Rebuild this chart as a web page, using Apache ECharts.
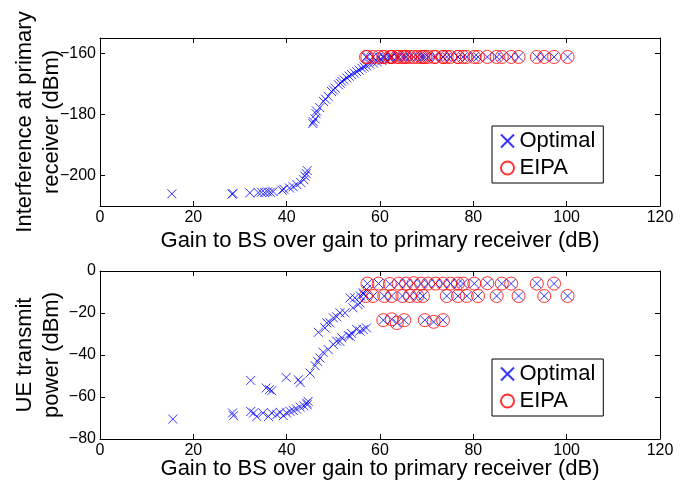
<!DOCTYPE html>
<html>
<head>
<meta charset="utf-8">
<script src="https://cdn.jsdelivr.net/npm/echarts@6/dist/echarts.min.js"></script>
<style>
  html, body { margin: 0; padding: 0; background: #fff; }
  #chart { width: 698px; height: 485px; }
</style>
</head>
<body>
<div id="chart"></div>
<script>
// 刻度
const X_TICKS = [0, 20, 40, 60, 80, 100, 120];
const TOP_Y_TICKS = [-200, -180, -160];
const BOTTOM_Y_TICKS = [-80, -60, -40, -20, 0];

// EIPA 用户的横坐标（两幅图共用）
const EIPA_X = [57.0, 57.3, 58.5, 59.7, 60.7, 60.9, 62.1, 62.5, 62.5, 63.6, 64.0, 64.8, 65.2, 65.6,
  66.4, 67.2, 68.0, 68.8, 69.2, 69.6, 70.3, 71.5, 71.9, 73.5, 73.5, 74.3, 75.1, 76.7, 76.7, 77.8,
  78.6, 80.2, 81.0, 83.0, 85.0, 86.1, 88.1, 89.7, 93.6, 95.2, 97.3, 100.2];

// 上图：干扰功率
const TOP_OPT_RISE = [
  [15.4, -206.0], [28.3, -206.1], [28.5, -205.9], [32.1, -205.7], [33.9, -205.6], [34.6, -205.5],
  [35.3, -205.6], [35.9, -205.4], [36.5, -205.5], [37.1, -205.3], [39.0, -204.8], [39.4, -204.5],
  [40.6, -204.1], [41.4, -203.7], [42.2, -203.0], [43.0, -202.3], [43.7, -201.4], [43.9, -200.2],
  [44.2, -199.4], [44.4, -198.4],
  [45.6, -183.0], [45.7, -182.4], [46.1, -181.5], [46.3, -179.8], [46.4, -178.9], [47.1, -177.8],
  [47.9, -175.8], [48.3, -175.0], [48.9, -174.1], [49.6, -172.5], [50.0, -172.0], [50.4, -171.4],
  [51.1, -170.3], [51.5, -169.8], [51.8, -169.2], [52.3, -168.7], [52.9, -168.1], [53.4, -167.5],
  [53.9, -167.0], [54.5, -166.5], [55.0, -166.0], [55.5, -165.5], [56.1, -164.9], [56.6, -164.5],
  [57.1, -164.1], [57.8, -163.6], [58.6, -163.2], [59.4, -162.8], [60.4, -162.4], [61.2, -162.0],
  [62.1, -161.6]
];
const TOP_PLATEAU_Y = -161.2;

// 下图：发射功率（EIPA 三行）
const BOTTOM_EIPA = [
  [57.3, -6.0], [59.7, -6.0], [62.1, -6.2], [64.0, -6.0], [65.6, -6.0], [67.2, -5.8], [68.8, -6.0],
  [70.3, -6.0], [71.9, -6.0], [73.5, -6.0], [75.1, -6.0], [76.7, -6.0], [77.8, -6.0], [80.2, -6.0],
  [83.0, -5.8], [86.1, -6.0], [88.1, -6.0], [93.6, -6.0], [97.3, -6.0],
  [57.0, -11.9], [58.5, -11.9], [60.9, -11.9], [62.5, -11.9], [64.8, -11.9], [66.4, -11.9],
  [68.0, -11.9], [69.2, -11.9], [74.3, -11.9], [76.7, -11.9], [78.6, -11.9], [81.0, -11.9],
  [85.0, -11.9], [89.7, -11.9], [95.2, -11.9], [100.2, -11.9],
  [60.7, -23.4], [62.5, -23.0], [63.6, -24.8], [65.2, -23.4], [69.6, -23.4], [71.5, -24.2], [73.5, -23.4]
];
const BOTTOM_OPT_RISE = [
  [15.6, -70.5], [28.4, -67.6], [28.6, -68.9], [32.3, -52.1], [32.3, -66.9], [32.9, -67.6],
  [33.6, -69.3], [34.9, -67.6], [35.6, -55.7], [36.1, -69.3], [36.3, -56.5], [36.8, -57.0],
  [36.8, -67.6], [37.9, -68.4], [38.6, -67.3], [39.3, -68.9], [39.9, -50.7], [40.0, -67.6],
  [40.7, -66.8], [41.4, -66.4], [42.1, -65.7], [42.5, -51.8], [42.9, -53.1], [42.9, -64.8],
  [43.7, -64.2], [44.3, -62.9], [44.4, -63.7], [44.6, -62.1],
  [45.0, -48.6], [46.1, -45.1], [46.6, -43.0], [47.1, -41.4], [47.8, -38.7], [48.9, -37.4],
  [50.0, -35.0], [50.7, -33.4], [51.4, -33.5], [51.8, -31.8], [53.2, -30.7], [53.6, -31.1],
  [53.9, -29.7], [55.0, -27.8], [55.7, -28.6], [56.4, -27.9], [57.1, -27.1],
  [46.8, -29.2], [48.2, -27.1], [48.6, -24.7], [49.3, -24.7], [50.0, -22.3], [50.7, -21.8],
  [51.4, -19.9], [52.5, -19.9], [53.6, -12.8], [54.2, -17.5], [54.6, -12.8], [55.3, -16.0],
  [55.7, -15.2], [56.4, -10.4], [57.1, -8.8], [55.8, -11.9], [56.5, -11.1]
];

const topEipa = EIPA_X.map(x => [x, TOP_PLATEAU_Y]);
const topOpt = TOP_OPT_RISE.concat(EIPA_X.map(x => [x, TOP_PLATEAU_Y]));
const bottomOpt = BOTTOM_OPT_RISE.concat(BOTTOM_EIPA);

const chart = echarts.init(document.getElementById('chart'));
const FONT = 'Liberation Sans';
const minus = v => String(v).replace('-', '\u2212');
const CROSS = 'path://M0,0L10,10M10,0L0,10';

function xAxisFor(grid, shown) {
  return {
    type: 'value', gridIndex: grid, min: 0, max: 120, position: shown ? 'bottom' : 'top',
    name: shown ? 'Gain to BS over gain to primary receiver (dB)' : '',
    nameLocation: 'middle', nameGap: grid === 0 ? 24 : 19, nameMoveOverlap: false,
    nameTextStyle: { fontFamily: FONT, fontSize: 22, color: '#000' },
    axisLine: { show: true, onZero: false, lineStyle: { color: '#000', width: 1 } },
    axisTick: { show: true, inside: true, length: 5, customValues: X_TICKS, lineStyle: { color: '#000' } },
    axisLabel: { show: shown, customValues: X_TICKS, fontFamily: FONT, fontSize: 16, color: '#000', margin: 4 },
    splitLine: { show: false }
  };
}
function yAxisFor(grid, shown, min, max, ticks, name) {
  return {
    type: 'value', gridIndex: grid, min: min, max: max, position: shown ? 'left' : 'right',
    name: shown ? name : '', nameLocation: 'middle', nameGap: 35, nameMoveOverlap: false,
    nameTextStyle: { fontFamily: FONT, fontSize: 22, color: '#000', lineHeight: 27 },
    axisLine: { show: true, onZero: false, lineStyle: { color: '#000', width: 1 } },
    axisTick: { show: true, inside: true, length: 5, customValues: ticks, lineStyle: { color: '#000' } },
    axisLabel: { show: shown, customValues: ticks, formatter: minus, fontFamily: FONT, fontSize: 16, color: '#000', margin: 4 },
    splitLine: { show: false }
  };
}
function legendFor(top) {
  return {
    left: 492, top: top, orient: 'vertical',
    data: ['Optimal', 'EIPA'],
    backgroundColor: '#fff', borderColor: '#000', borderWidth: 1,
    padding: [4, 8, 4, 8], itemGap: 5, itemWidth: 14, itemHeight: 13,
    textStyle: { fontFamily: FONT, fontSize: 22, color: '#000' }
  };
}
const optStyle = { color: 'transparent', borderColor: '#0000ff', borderWidth: 1 };
const eipaStyle = { color: 'transparent', borderColor: '#ff0000', borderWidth: 1 };

chart.setOption({
  animation: false,
  grid: [
    { left: 100, top: 38, width: 560, height: 168, outerBoundsMode: 'none' },
    { left: 100, top: 271, width: 560, height: 168, outerBoundsMode: 'none' }
  ],
  xAxis: [xAxisFor(0, true), xAxisFor(0, false), xAxisFor(1, true), xAxisFor(1, false)],
  yAxis: [
    yAxisFor(0, true, -210, -155, TOP_Y_TICKS, 'Interference at primary\nreceiver (dBm)'),
    yAxisFor(0, false, -210, -155, TOP_Y_TICKS, ''),
    yAxisFor(1, true, -80, 0, BOTTOM_Y_TICKS, 'UE transmit\npower (dBm)'),
    yAxisFor(1, false, -80, 0, BOTTOM_Y_TICKS, '')
  ],
  legend: [legendFor(126), legendFor(359)],
  series: [
    { name: 'Optimal', type: 'scatter', xAxisIndex: 0, yAxisIndex: 0, data: topOpt,
      symbol: CROSS, symbolSize: 9, itemStyle: optStyle },
    { name: 'EIPA', type: 'scatter', xAxisIndex: 0, yAxisIndex: 0, data: topEipa,
      symbol: 'circle', symbolSize: 13, itemStyle: eipaStyle },
    { name: 'Optimal', type: 'scatter', xAxisIndex: 2, yAxisIndex: 2, data: bottomOpt,
      symbol: CROSS, symbolSize: 9, itemStyle: optStyle },
    { name: 'EIPA', type: 'scatter', xAxisIndex: 2, yAxisIndex: 2, data: BOTTOM_EIPA,
      symbol: 'circle', symbolSize: 13, itemStyle: eipaStyle }
  ]
});
window.addEventListener('resize', () => chart.resize());
</script>
</body>
</html>
